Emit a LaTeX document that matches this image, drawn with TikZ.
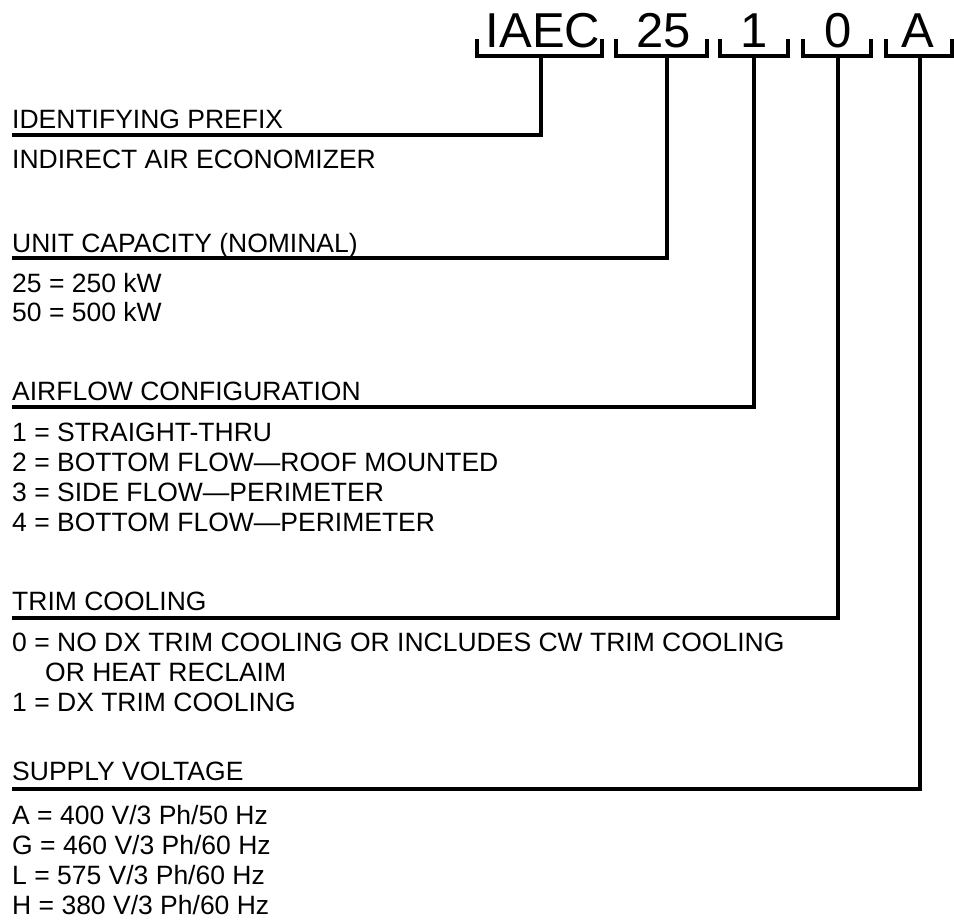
\documentclass[tikz,border=0pt]{standalone}
\usepackage{fontspec}
\setmainfont{Liberation Sans}
\begin{document}
\begin{tikzpicture}[x=1pt, y=-1pt, line join=miter,
  codeStyle/.style={font=\fontsize{49}{49}\selectfont, inner sep=0, anchor=base},
  headStyle/.style={font=\fontsize{26.5}{28}\selectfont, inner sep=0, anchor=base west},
  itemStyle/.style={font=\fontsize{26.5}{28}\selectfont, inner sep=0, anchor=base west},
  lineStyle/.style={line width=4pt},
  bracketStyle/.style={line width=4.5pt}]
  \useasboundingbox (0,0) rectangle (954,922);

  % model number
  \node[codeStyle] (code_0) at (543, 47) {IAEC};
  \node[codeStyle] (code_1) at (664, 47) {25};
  \node[codeStyle] (code_2) at (754, 47) {1};
  \node[codeStyle] (code_3) at (838, 47) {0};
  \node[codeStyle] (code_4) at (918, 47) {A};

  % brackets under each field
  \coordinate (br_0) at (541, 56);
  \coordinate (br_1) at (667, 56);
  \coordinate (br_2) at (754, 56);
  \coordinate (br_3) at (838, 56);
  \coordinate (br_4) at (920, 56);
  \draw[bracketStyle] (477, 39) |- (602, 56) -- (602, 39);
  \draw[bracketStyle] (616, 39) |- (707, 56) -- (707, 39);
  \draw[bracketStyle] (720, 39) |- (788, 56) -- (788, 39);
  \draw[bracketStyle] (803, 39) |- (871, 56) -- (871, 39);
  \draw[bracketStyle] (886, 39) |- (952, 56) -- (952, 39);

  % field headings
  \node[headStyle] (head_0) at (12, 128) {IDENTIFYING PREFIX};
  \node[headStyle] (head_1) at (12, 252) {UNIT CAPACITY (NOMINAL)};
  \node[headStyle] (head_2) at (12, 400) {AIRFLOW CONFIGURATION};
  \node[headStyle] (head_3) at (12, 610) {TRIM COOLING};
  \node[headStyle] (head_4) at (12, 780) {SUPPLY VOLTAGE};

  \coordinate (line_0) at (12, 135);
  \coordinate (line_1) at (12, 258);
  \coordinate (line_2) at (12, 407);
  \coordinate (line_3) at (12, 618);
  \coordinate (line_4) at (12, 789);

  \draw[lineStyle] (line_0) -| (br_0);
  \draw[lineStyle] (line_1) -| (br_1);
  \draw[lineStyle] (line_2) -| (br_2);
  \draw[lineStyle] (line_3) -| (br_3);
  \draw[lineStyle] (line_4) -| (br_4);

  % options
  \node[itemStyle] (item_0_0) at (12, 168) {INDIRECT AIR ECONOMIZER};

  \node[itemStyle] (item_1_0) at (12, 292) {25 = 250 kW};
  \node[itemStyle] (item_1_1) at (12, 321) {50 = 500 kW};

  \node[itemStyle] (item_2_0) at (12, 441) {1 = STRAIGHT-THRU};
  \node[itemStyle] (item_2_1) at (12, 471) {2 = BOTTOM FLOW---ROOF MOUNTED};
  \node[itemStyle] (item_2_2) at (12, 501) {3 = SIDE FLOW---PERIMETER};
  \node[itemStyle] (item_2_3) at (12, 531) {4 = BOTTOM FLOW---PERIMETER};

  \node[itemStyle] (item_3_0) at (12, 651) {0 = NO DX TRIM COOLING OR INCLUDES CW TRIM COOLING};
  \node[itemStyle] (item_3_1) at (45, 681) {OR HEAT RECLAIM};
  \node[itemStyle] (item_3_2) at (12, 711) {1 = DX TRIM COOLING};

  \node[itemStyle] (item_4_0) at (12, 824) {A = 400 V/3 Ph/50 Hz};
  \node[itemStyle] (item_4_1) at (12, 854) {G = 460 V/3 Ph/60 Hz};
  \node[itemStyle] (item_4_2) at (12, 884) {L = 575 V/3 Ph/60 Hz};
  \node[itemStyle] (item_4_3) at (12, 914) {H = 380 V/3 Ph/60 Hz};
\end{tikzpicture}
\end{document}
